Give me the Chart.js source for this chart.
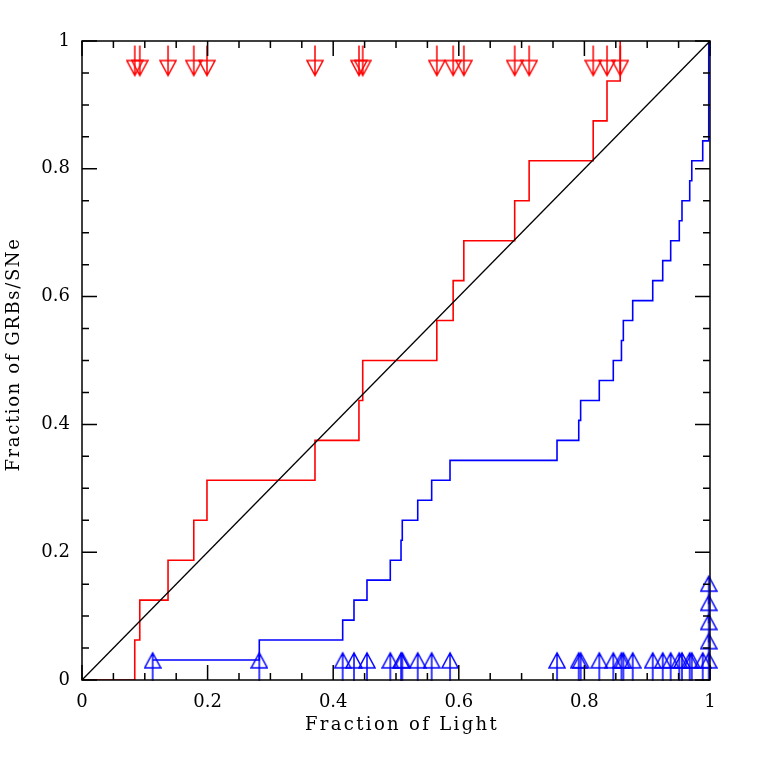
<!DOCTYPE html>
<html>
<head>
<meta charset="utf-8">
<script src="https://cdn.jsdelivr.net/npm/chart.js@4.4.1/dist/chart.umd.min.js"></script>
<style>
  body { margin: 0; background: #fff; }
  canvas { display: block; }
</style>
</head>
<body>
<canvas id="chart" width="761" height="761"></canvas>
<script>
// GRB (red) : fraction of light at each GRB position, and cumulative fraction
const redFrac = [0, 0.084, 0.092, 0.137, 0.178, 0.199, 0.371, 0.441, 0.447, 0.565, 0.591, 0.608, 0.689, 0.712, 0.814, 0.836, 0.857];
const redCum  = [0, 0.0625, 0.125, 0.1875, 0.25, 0.3125, 0.375, 0.4375, 0.5, 0.5625, 0.625, 0.6875, 0.75, 0.8125, 0.875, 0.9375, 1];
// red limit arrows (top of the plot)
const redArrowX = [0.084, 0.092, 0.137, 0.178, 0.199, 0.371, 0.441, 0.447, 0.565, 0.591, 0.608, 0.689, 0.712, 0.814, 0.836, 0.857];
const redArrowY = [0.96, 0.96, 0.96, 0.96, 0.96, 0.96, 0.96, 0.96, 0.96, 0.96, 0.96, 0.96, 0.96, 0.96, 0.96, 0.96];

// SNe (blue)
const blueFrac = [0.1125, 0.2823, 0.4151, 0.4331, 0.4538, 0.4909, 0.508, 0.510, 0.5346, 0.5568, 0.586, 0.7564,
                  0.791, 0.794, 0.8237, 0.846, 0.859, 0.862, 0.8769, 0.9088, 0.9247, 0.9374, 0.9511, 0.9554,
                  0.9677, 0.971, 0.9884, 0.998, 0.998, 0.998, 0.998, 0.998];
const blueCum  = [0.03125, 0.0625, 0.09375, 0.125, 0.15625, 0.1875, 0.21875, 0.25, 0.28125, 0.3125, 0.34375, 0.375,
                  0.40625, 0.4375, 0.46875, 0.5, 0.53125, 0.5625, 0.59375, 0.625, 0.65625, 0.6875, 0.71875, 0.75,
                  0.78125, 0.8125, 0.84375, 0.875, 0.90625, 0.9375, 0.96875, 1];
// blue limit arrows (bottom, the last ones stacked at x=1)
const blueArrowY = [0.03, 0.03, 0.03, 0.03, 0.03, 0.03, 0.03, 0.03, 0.03, 0.03, 0.03, 0.03,
                    0.03, 0.03, 0.03, 0.03, 0.03, 0.03, 0.03, 0.03, 0.03, 0.03, 0.03, 0.03,
                    0.03, 0.03, 0.03, 0.03, 0.06, 0.09, 0.12, 0.15];

// one-to-one line
const diagX = [0, 1];
const diagY = [0, 1];

// axis ticks
const tickLabels = [0, 0.2, 0.4, 0.6, 0.8, 1];
const minorTicks = [0.05, 0.1, 0.15, 0.25, 0.3, 0.35, 0.45, 0.5, 0.55, 0.65, 0.7, 0.75, 0.85, 0.9, 0.95];

const xTitle = "Fraction of Light";
const yTitle = "Fraction of GRBs/SNe";

const RED = "#ff0000";
const BLUE = "#0000ff";

// 矢印マーカーを作る
function makeArrow(color, up) {
    const c = document.createElement("canvas");
    c.width = 18;
    c.height = 50;
    const g = c.getContext("2d");
    const cx = 9, cy = 25;
    g.strokeStyle = color;
    g.lineWidth = 1.5;
    g.beginPath();
    if (up) {
        g.moveTo(cx, cy - 8); g.lineTo(cx, cy + 20);
        g.moveTo(cx, cy - 8); g.lineTo(cx - 8, cy + 7); g.lineTo(cx + 8, cy + 7); g.closePath();
    } else {
        g.moveTo(cx, cy + 9); g.lineTo(cx, cy - 21);
        g.moveTo(cx, cy + 9); g.lineTo(cx - 8, cy - 6); g.lineTo(cx + 8, cy - 6); g.closePath();
    }
    g.stroke();
    return c;
}

function toPoints(xs, ys) {
    return xs.map((x, i) => ({ x: x, y: ys[i] }));
}

// 枠と内向きの目盛り、軸タイトル
const framePlugin = {
    id: "frame",
    afterDatasetsDraw(chart) {
        const ctx = chart.ctx;
        const a = chart.chartArea;
        const xs = chart.scales.x, ys = chart.scales.y;
        ctx.save();
        ctx.strokeStyle = "#000";
        ctx.lineWidth = 1.5;
        ctx.beginPath();
        const tick = (v, len) => {
            const px = xs.getPixelForValue(v);
            ctx.moveTo(px, a.bottom); ctx.lineTo(px, a.bottom - len);
            ctx.moveTo(px, a.top); ctx.lineTo(px, a.top + len);
            const py = ys.getPixelForValue(v);
            ctx.moveTo(a.left, py); ctx.lineTo(a.left + len, py);
            ctx.moveTo(a.right, py); ctx.lineTo(a.right - len, py);
        };
        tickLabels.forEach(v => tick(v, 15));
        minorTicks.forEach(v => tick(v, 7));
        ctx.stroke();
        ctx.strokeRect(a.left, a.top, a.right - a.left, a.bottom - a.top);

        // 軸タイトル
        ctx.fillStyle = "#000";
        ctx.font = "18px 'DejaVu Serif'";
        ctx.textBaseline = "alphabetic";
        ctx.textAlign = "center";
        const spaced = (text, target) => {
            ctx.letterSpacing = "0px";
            const w = ctx.measureText(text).width;
            ctx.letterSpacing = ((target - w) / text.length) + "px";
        };
        spaced(xTitle, 194);
        ctx.fillText(xTitle, (a.left + a.right) / 2 + 6, a.bottom + 50);
        ctx.save();
        ctx.translate(19, (a.top + a.bottom) / 2 - 6);
        ctx.rotate(-Math.PI / 2);
        spaced(yTitle, 234);
        ctx.fillText(yTitle, 0, 0);
        ctx.restore();
        ctx.letterSpacing = "0px";
        ctx.restore();
    }
};

const ctx = document.getElementById("chart").getContext("2d");
const chart = new Chart(ctx, {
    type: "line",
    data: {
        datasets: [{
            data: toPoints(redArrowX, redArrowY),
            showLine: false,
            pointStyle: makeArrow(RED, false),
            pointRadius: 5,
            clip: false
        }, {
            data: toPoints(blueFrac, blueArrowY),
            showLine: false,
            pointStyle: makeArrow(BLUE, true),
            pointRadius: 5,
            clip: false
        }, {
            data: toPoints(diagX, diagY),
            borderColor: "#000",
            borderWidth: 1.3,
            pointRadius: 0
        }, {
            data: toPoints(redFrac, redCum),
            borderColor: RED,
            borderWidth: 1.6,
            stepped: "before",
            pointRadius: 0
        }, {
            data: toPoints(blueFrac, blueCum),
            borderColor: BLUE,
            borderWidth: 1.6,
            stepped: "before",
            pointRadius: 0
        }]
    },
    options: {
        responsive: false,
        animation: false,
        devicePixelRatio: 1,
        layout: { padding: { left: 0, top: 41, right: 51, bottom: 0 } },
        plugins: { legend: { display: false }, tooltip: { enabled: false } },
        scales: {
            x: {
                type: "linear",
                min: 0,
                max: 1,
                afterFit: s => { s.height = 81; },
                afterBuildTicks: s => { s.ticks = tickLabels.map(v => ({ value: v })); },
                grid: { display: false, drawTicks: false },
                border: { display: false },
                ticks: {
                    padding: 12,
                    maxRotation: 0,
                    color: "#000",
                    font: { family: "'DejaVu Serif'", size: 18 },
                    callback: v => String(+v.toFixed(2))
                }
            },
            y: {
                type: "linear",
                min: 0,
                max: 1,
                afterFit: s => { s.width = 82; },
                afterBuildTicks: s => { s.ticks = tickLabels.map(v => ({ value: v })); },
                grid: { display: false, drawTicks: false },
                border: { display: false },
                ticks: {
                    padding: 12,
                    color: "#000",
                    font: { family: "'DejaVu Serif'", size: 18 },
                    callback: v => String(+v.toFixed(2))
                }
            }
        }
    },
    plugins: [framePlugin]
});
</script>
</body>
</html>
